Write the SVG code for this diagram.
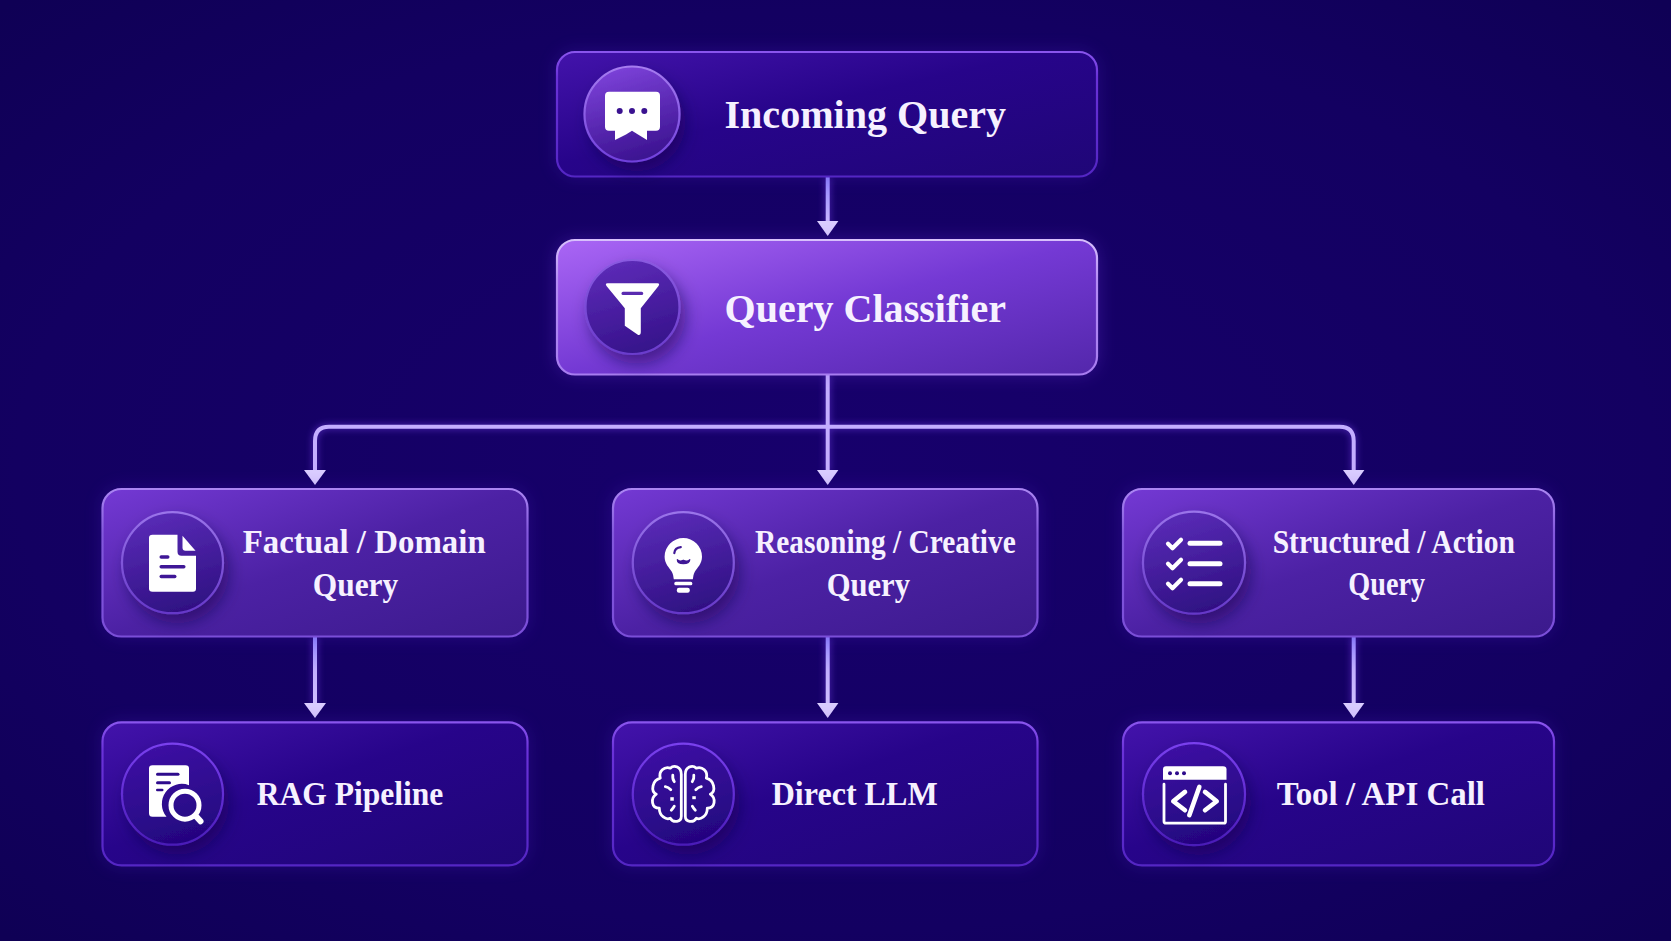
<svg xmlns="http://www.w3.org/2000/svg" width="1671" height="941" viewBox="0 0 1671 941">
<defs>
<radialGradient id="bg" cx="50%" cy="50%" r="70%"><stop offset="0" stop-color="#17006c"/><stop offset=".7" stop-color="#130061"/><stop offset="1" stop-color="#0f0055"/></radialGradient>
<linearGradient id="gDark" x1="0" y1="0" x2="1" y2="1"><stop offset="0" stop-color="#4313ab"/><stop offset=".45" stop-color="#27048a"/><stop offset="1" stop-color="#1f0677"/></linearGradient>
<linearGradient id="gMid" x1="0" y1="0" x2="1" y2="1"><stop offset="0" stop-color="#7439d4"/><stop offset=".5" stop-color="#4c21a4"/><stop offset="1" stop-color="#3b1a8c"/></linearGradient>
<linearGradient id="gHot" x1="0" y1="0" x2="1" y2="1"><stop offset="0" stop-color="#aa66f5"/><stop offset=".5" stop-color="#7439d4"/><stop offset="1" stop-color="#5327ab"/></linearGradient>
<linearGradient id="sDark" x1="0" y1="0" x2="0" y2="1"><stop offset="0" stop-color="#8a55ee"/><stop offset=".2" stop-color="#6a32d8"/><stop offset="1" stop-color="#5426c4"/></linearGradient>
<linearGradient id="sMid" x1="0" y1="0" x2="0" y2="1"><stop offset="0" stop-color="#ab86f2"/><stop offset=".3" stop-color="#8358dc"/><stop offset="1" stop-color="#7a4ed8"/></linearGradient>
<linearGradient id="sHot" x1="0" y1="0" x2="0" y2="1"><stop offset="0" stop-color="#d8c0fc"/><stop offset=".3" stop-color="#b48cf5"/><stop offset="1" stop-color="#a77cf0"/></linearGradient>
<linearGradient id="cTop" x1="0.3" y1="0" x2="0.6" y2="1"><stop offset="0" stop-color="#7d42da"/><stop offset="1" stop-color="#3a128f"/></linearGradient>
<linearGradient id="cHot" x1="0.3" y1="0" x2="0.6" y2="1"><stop offset="0" stop-color="#5d2bb8"/><stop offset="1" stop-color="#35128a"/></linearGradient>
<linearGradient id="cMid" x1="0.3" y1="0" x2="0.6" y2="1"><stop offset="0" stop-color="#5a2cb8"/><stop offset="1" stop-color="#2f1082"/></linearGradient>
<linearGradient id="cDark" x1="0.3" y1="0" x2="0.6" y2="1"><stop offset="0" stop-color="#3d12a4"/><stop offset="1" stop-color="#23057e"/></linearGradient>
<linearGradient id="rTop" x1="0" y1="0" x2="0" y2="1"><stop offset="0" stop-color="#a67cf0"/><stop offset="1" stop-color="#7040dc"/></linearGradient>
<linearGradient id="rHot" x1="0" y1="0" x2="0" y2="1"><stop offset="0" stop-color="#8a5ae0"/><stop offset="1" stop-color="#6a3ccc"/></linearGradient>
<linearGradient id="rMid" x1="0" y1="0" x2="0" y2="1"><stop offset="0" stop-color="#9a74ea"/><stop offset="1" stop-color="#6538c8"/></linearGradient>
<linearGradient id="rDark" x1="0" y1="0" x2="0" y2="1"><stop offset="0" stop-color="#7a40ee"/><stop offset="1" stop-color="#4a1cb8"/></linearGradient>
<linearGradient id="l1" gradientUnits="userSpaceOnUse" x1="0" y1="177" x2="0" y2="222"><stop offset="0" stop-color="#8f85ff"/><stop offset="1" stop-color="#c9b6ff"/></linearGradient>
<linearGradient id="l2" gradientUnits="userSpaceOnUse" x1="0" y1="637" x2="0" y2="705"><stop offset="0" stop-color="#8f85ff"/><stop offset=".5" stop-color="#c2b0ff"/><stop offset="1" stop-color="#d0c0ff"/></linearGradient>
<filter id="glow" x="-10%" y="-15%" width="120%" height="130%"><feGaussianBlur stdDeviation="9"/></filter>
<filter id="lineGlow" x="0" y="0" width="1671" height="941" filterUnits="userSpaceOnUse"><feGaussianBlur stdDeviation="3.5"/></filter>
<filter id="cShadow" x="-30%" y="-30%" width="170%" height="170%"><feDropShadow dx="5" dy="9" stdDeviation="8" flood-color="#0d0045" flood-opacity=".5"/></filter>
</defs>
<style>
.t{font-family:"Liberation Serif","DejaVu Serif",serif;font-weight:700;fill:#f6f1ff;text-anchor:start}
.big{font-size:40.5px}
.mid{font-size:34px}
.box{stroke-width:2.2}
.dark{fill:url(#gDark);stroke:url(#sDark)}
.midb{fill:url(#gMid);stroke:url(#sMid)}
.hot{fill:url(#gHot);stroke:url(#sHot)}
.halo{filter:url(#glow);fill:#4e1fc0;opacity:.3}
.ring{stroke-width:2.2;filter:url(#cShadow)}
.i{fill:#fff}
.d{fill:none;stroke:#fff;stroke-linecap:round;stroke-linejoin:round}
.lc{fill:none;stroke:#c4aeff;stroke-width:4}
.lg{fill:none;stroke:#7a45f0;stroke-width:5;filter:url(#lineGlow);opacity:.55}
.ah{fill:#dacdff}
</style>
<rect width="1671" height="941" fill="url(#bg)"/>

<g id="connectors">
<path class="lg" d="M827.7 177V228M827.7 375V472M315 472V441Q315 426.7 329 426.7H1339.7Q1353.7 426.7 1353.7 441V472M315 637V705M827.7 637V705M1353.7 637V705"/>
<path class="lc" style="stroke:url(#l1)" d="M827.7 177V222"/>
<path class="lc" d="M827.7 375V472"/>
<path class="lc" d="M315 472V441Q315 426.7 329 426.7H827.7"/>
<path class="lc" d="M1353.7 472V441Q1353.7 426.7 1339.7 426.7H827.7"/>
<path class="lc" style="stroke:url(#l2)" d="M315 637V705"/>
<path class="lc" style="stroke:url(#l2)" d="M827.7 637V705"/>
<path class="lc" style="stroke:url(#l2)" d="M1353.7 637V705"/>
<path class="ah" d="M817 221H838.4L827.7 236Z"/>
<path class="ah" d="M304 470H326L315 485Z"/>
<path class="ah" d="M817 470H838.4L827.7 485Z"/>
<path class="ah" d="M1343 470H1364.4L1353.7 485Z"/>
<path class="ah" d="M304 703H326L315 718Z"/>
<path class="ah" d="M817 703H838.4L827.7 718Z"/>
<path class="ah" d="M1343 703H1364.4L1353.7 718Z"/>
</g>

<g id="node-incoming">
<rect class="halo" x="556" y="51" width="542" height="126" rx="19"/>
<rect class="box dark" x="557" y="52" width="540" height="124.5" rx="18"/>
<circle class="ring" cx="632" cy="114" r="47.5" fill="url(#cTop)" stroke="url(#rTop)"/>
<g transform="translate(632 114)">
<path class="i" d="M-23-22.3H24Q28-22.3 28-18.3V12.7Q28 16.7 24 16.7H15L15 26L6 20.5L0 16.7L-6 20.5L-17 26L-17 16.7H-23Q-27 16.7-27 12.7V-18.3Q-27-22.3-23-22.3Z"/>
<g fill="#3a1290"><circle cx="-12.3" cy="-3" r="3"/><circle cx="0" cy="-3" r="3"/><circle cx="12.3" cy="-3" r="3"/></g>
</g>
<text class="t big" x="724.5" y="128" textLength="281.5" lengthAdjust="spacingAndGlyphs">Incoming Query</text>
</g>

<g id="node-classifier">
<rect class="halo" x="556" y="240" width="542" height="135" rx="19" style="fill:#7a3ae8"/>
<rect class="box hot" x="557" y="240" width="540" height="134.5" rx="18"/>
<circle class="ring" cx="632.5" cy="307" r="47" fill="url(#cHot)" stroke="url(#rHot)"/>
<g transform="translate(632.5 307)">
<path class="i" d="M-25-23.7H25Q27.7-23.7 26-21L8.3 1.3V25Q8.3 28.5 5.7 28L-7.7 18.7V1.3L-26-21Q-27.7-23.7-25-23.7Z"/>
<rect x="-11" y="-15.3" width="21.7" height="3.3" rx="1.5" fill="#5a2bb0"/>
</g>
<text class="t big" x="724.5" y="322" textLength="281.5" lengthAdjust="spacingAndGlyphs">Query Classifier</text>
</g>

<g id="node-factual">
<rect class="halo" x="102" y="488" width="426" height="149" rx="19"/>
<rect class="box midb" x="102.5" y="489" width="425" height="147.5" rx="19"/>
<circle class="ring" cx="172.5" cy="562.7" r="50.5" fill="url(#cMid)" stroke="url(#rMid)"/>
<g transform="translate(172.5 562.7)">
<path class="i" d="M-20-28H5V-11Q5-7 9-7H23.5V26Q23.5 29 20.5 29H-20Q-23.5 29-23.5 26V-25Q-23.5-28-20-28Z"/>
<path class="i" d="M10-27L23-12H13Q10-12 10-15Z"/>
<g fill="#3f1796"><rect x="-13" y="-7.5" width="10" height="3.5" rx="1.7"/><rect x="-13" y="2.2" width="26" height="3.5" rx="1.7"/><rect x="-13" y="12" width="17" height="3.5" rx="1.7"/></g>
</g>
<text class="t mid" x="242.7" y="552.7" textLength="243" lengthAdjust="spacingAndGlyphs">Factual / Domain</text>
<text class="t mid" x="312.7" y="596" textLength="85.6" lengthAdjust="spacingAndGlyphs">Query</text>
</g>

<g id="node-reasoning">
<rect class="halo" x="612" y="488" width="426" height="149" rx="19"/>
<rect class="box midb" x="613" y="489" width="424.5" height="147.5" rx="19"/>
<circle class="ring" cx="683.3" cy="562.7" r="50.5" fill="url(#cMid)" stroke="url(#rMid)"/>
<g transform="translate(683.3 562.7)">
<path class="i" d="M-18.7-6A18.7 18.7 0 1 1 18.7-6C18.7 1 14 5 11.5 9C10 11.5 10 14 9.5 16.5H-9.5C-10 14-10 11.5-11.5 9C-14 5-18.7 1-18.7-6Z"/>
<rect class="i" x="-9" y="19" width="18" height="3.6" rx="1.5"/>
<rect class="i" x="-6.5" y="25" width="13" height="5" rx="2.2"/>
<path d="M-9-9.5Q-8.5-15-2.5-15.5" fill="none" stroke="#3f1796" stroke-width="2.2" stroke-linecap="round"/>
<path d="M-6-3Q-4-.5 0-2.5Q4-.5 6.5-3Q6 1 0 1Q-6 1-6-3Z" fill="#3f1796" stroke="#3f1796" stroke-width="1.2" stroke-linejoin="round"/>
</g>
<text class="t mid" x="755" y="552.7" textLength="260.7" lengthAdjust="spacingAndGlyphs">Reasoning / Creative</text>
<text class="t mid" x="826.7" y="596" textLength="83.3" lengthAdjust="spacingAndGlyphs">Query</text>
</g>

<g id="node-structured">
<rect class="halo" x="1122" y="488" width="432" height="149" rx="19"/>
<rect class="box midb" x="1123" y="489" width="431" height="147.5" rx="19"/>
<circle class="ring" cx="1194" cy="562.7" r="51" fill="url(#cMid)" stroke="url(#rMid)"/>
<g transform="translate(1194 562.7)">
<g class="d" stroke-width="4.2"><path d="M-26-19L-21.5-14.5L-13-23"/><path d="M-26 1L-21.5 5.5L-13-3"/><path d="M-26 21L-21.5 25.5L-13 17"/></g>
<g class="d" stroke-width="5"><path d="M-4-19.5H26"/><path d="M-4 1H26"/><path d="M-4 21H26"/></g>
</g>
<text class="t mid" x="1272.7" y="552.7" textLength="242.3" lengthAdjust="spacingAndGlyphs">Structured / Action</text>
<text class="t mid" x="1348.3" y="595" textLength="76.7" lengthAdjust="spacingAndGlyphs">Query</text>
</g>

<g id="node-rag">
<rect class="halo" x="102" y="722" width="426" height="144" rx="19"/>
<rect class="box dark" x="102.5" y="722.3" width="425" height="143" rx="19"/>
<circle class="ring" cx="172.5" cy="794.2" r="50.5" fill="url(#cDark)" stroke="url(#rDark)"/>
<g transform="translate(172.5 794.2)">
<path class="i" d="M-20-29H13Q16.5-29 16.5-26V-9A20 20 0 0 0-6 22.5H-20Q-23.5 22.5-23.5 19V-26Q-23.5-29-20-29Z"/>
<g fill="#2e0b8c"><rect x="-16.5" y="-21.5" width="23.5" height="3" rx="1.5"/><rect x="-16.5" y="-13" width="15" height="3" rx="1.5"/><rect x="-16.5" y="-5.5" width="7.5" height="2.6" rx="1.3"/></g>
<circle class="d" cx="12.5" cy="11" r="14" stroke-width="5"/>
<path class="d" d="M23.5 22L28 27" stroke-width="6"/>
</g>
<text class="t mid" x="256.7" y="805" textLength="186.6" lengthAdjust="spacingAndGlyphs">RAG Pipeline</text>
</g>

<g id="node-direct">
<rect class="halo" x="612" y="722" width="426" height="144" rx="19"/>
<rect class="box dark" x="613" y="722.3" width="424.5" height="143" rx="19"/>
<circle class="ring" cx="683.3" cy="794.2" r="50.5" fill="url(#cDark)" stroke="url(#rDark)"/>
<g transform="translate(683.3 794.2)">
<g class="d" stroke-width="2.8">
<path d="M-2-20C-2-27-9-30-13-26C-19-28-25-23-23-16C-31-14-33-3-27 0C-33 4-32 14-24 14C-24 22-17 26-13 24C-10 29-2 28-2 22Z"/>
<path d="M2-20C2-27 9-30 13-26C19-28 25-23 23-16C31-14 33-3 27 0C33 4 32 14 24 14C24 22 17 26 13 24C10 29 2 28 2 22Z"/>
<path d="M-10.5-19Q-11-15-9-12.5M10.5-19Q11-15 9-12.5M-18-7.5Q-15-7-12.5-4.5M18-7.5Q15-7 12.5-4.5M-12 16Q-10 14-9 12M12 16Q10 14 9 12"/>
</g>
<rect class="i" x="-13" y="3" width="3.5" height="3.5"/>
<rect class="i" x="9" y="2" width="3.5" height="3"/>
</g>
<text class="t mid" x="771.7" y="805" textLength="166" lengthAdjust="spacingAndGlyphs">Direct LLM</text>
</g>

<g id="node-tool">
<rect class="halo" x="1122" y="722" width="432" height="144" rx="19"/>
<rect class="box dark" x="1123" y="722.3" width="431" height="143" rx="19"/>
<circle class="ring" cx="1194" cy="794.2" r="51" fill="url(#cDark)" stroke="url(#rDark)"/>
<g transform="translate(1194 794.2)">
<path class="i" d="M-28-28H29Q32.5-28 32.5-25V-14.5H-31V-25Q-31-28-28-28Z"/>
<g fill="#2e0b8c"><circle cx="-24" cy="-21" r="2"/><circle cx="-17" cy="-21" r="2"/><circle cx="-10" cy="-21" r="2"/></g>
<path class="d" d="M-30-10V27Q-30 29-28 29H30Q31.5 29 31.5 27V-10" stroke-width="2.8"/>
<path class="d" d="M-9-2.3L-20.7 7L-9 16M11-2.3L22.7 7L11 16M5.3-7.3L-4.7 21" stroke-width="4.6"/>
</g>
<text class="t mid" x="1276.7" y="805" textLength="208.3" lengthAdjust="spacingAndGlyphs">Tool / API Call</text>
</g>
</svg>
